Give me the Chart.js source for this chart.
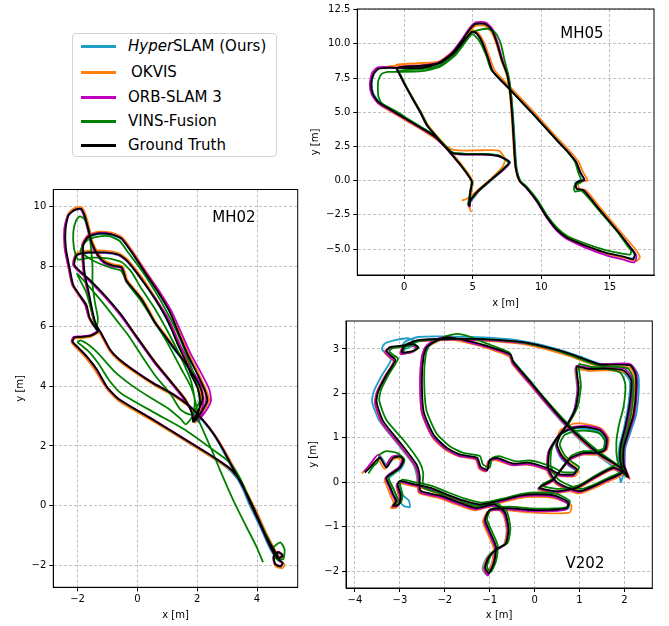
<!DOCTYPE html>
<html>
<head>
<meta charset="utf-8">
<script src="https://cdn.jsdelivr.net/npm/chart.js@4.4.0/dist/chart.umd.min.js"></script>
<style>
body { margin: 0; background: #fff; width: 669px; height: 626px; position: relative; overflow: hidden; font-family: "DejaVu Sans", sans-serif; }
canvas { position: absolute; }
.tag { position: absolute; font-size: 15px; color: #000; transform: translate(-50%, -50%); white-space: nowrap; }
#legend { position: absolute; left: 72px; top: 33px; width: 205px; height: 124px; border: 1px solid #d3d3d3; border-radius: 4px; background: #fff; box-sizing: border-box; }
.swatch { position: absolute; left: 8px; width: 35px; height: 2.5px; }
.lbl { position: absolute; left: 55px; font-size: 15px; line-height: 18px; color: #000; transform: translateY(-50%); white-space: nowrap; }
</style>
</head>
<body>
<div id="legend">
  <div class="swatch" style="top:11px;background:#1f9fc6"></div><div class="lbl" style="top:12px"><i>Hyper</i>SLAM (Ours)</div>
  <div class="swatch" style="top:37px;background:#ff7f0e"></div><div class="lbl" style="top:38px;left:58px">OKVIS</div>
  <div class="swatch" style="top:62px;background:#bf00bf"></div><div class="lbl" style="top:63px">ORB-SLAM 3</div>
  <div class="swatch" style="top:86px;background:#008000"></div><div class="lbl" style="top:87px">VINS-Fusion</div>
  <div class="swatch" style="top:110px;background:#000000"></div><div class="lbl" style="top:111px">Ground Truth</div>
</div>

<canvas id="mh02" width="305" height="446" style="left:0px;top:180px"></canvas>
<canvas id="mh05" width="369" height="312" style="left:300px;top:0px"></canvas>
<canvas id="v202" width="369" height="314" style="left:300px;top:312px"></canvas>

<div class="tag" style="left:234px;top:217px">MH02</div>
<div class="tag" style="left:582px;top:33px">MH05</div>
<div class="tag" style="left:585px;top:563px">V202</div>

<script>
// ---- MH02 trajectories, [x, y] in metres ----
const mh02Truth = [
  [4.72,-1.8],[4.86,-1.9],[4.8,-2.02],[4.62,-1.96],[4.56,-1.7],[4.72,-1.55],[4.86,-1.66],[4.7,-1.76],
  [4.45,-1.38],[4.1,-0.6],[3.78,0.08],[3.45,0.82],[3.12,1.22],[2.55,1.62],[1.65,2.18],[0.55,2.86],[-0.6,3.55],[-1.0,3.95],[-1.35,4.55],[-1.7,5.0],[-2.02,5.32],[-2.16,5.48],[-2.1,5.62],[-1.85,5.64],[-1.55,5.68],[-1.32,5.82],
  [-1.47,6.05],[-1.6,6.3],[-1.7,6.7],[-1.92,7.03],[-2.14,7.37],[-2.26,7.92],[-2.39,8.6],[-2.4,9.26],[-2.3,9.7],[-2.1,9.88],
  [-1.88,9.92],[-1.76,9.68],[-1.64,9.24],[-1.53,8.8],[-1.31,8.36],[-1.09,8.13],[-0.81,8.02],[-0.53,7.97],[-0.44,7.74],[-0.37,7.52],[-0.14,7.24],[0.13,6.91],[0.36,6.52],[0.58,6.13],[0.91,5.69],[1.24,5.24],[1.58,4.8],[1.8,4.47],[2.02,4.13],[2.13,3.88],[2.18,3.55],[2.0,3.1],[1.85,2.82],
  [2.02,3.05],[2.1,3.45],[2.02,3.92],[1.8,4.37],[1.63,4.81],[1.36,5.37],[1.13,5.92],[0.91,6.37],[0.58,6.92],[0.24,7.42],[-0.09,7.87],[-0.37,8.2],[-0.64,8.39],[-1.09,8.46],[-1.64,8.46],[-2.03,8.37],[-2.1,8.03],
  [-1.64,7.59],[-1.09,7.03],[-0.53,6.37],[0.02,5.59],[0.58,4.81],[1.13,4.14],[1.6,3.55],[1.82,3.1],[1.88,2.8],
  [2.15,3.15],[2.34,3.5],[2.26,3.85],[2.02,4.37],[1.69,5.03],[1.36,5.81],[1.08,6.48],[0.69,7.14],[0.24,7.81],[-0.2,8.48],[-0.53,8.92],[-0.87,9.06],[-1.31,9.09],[-1.64,8.98],[-1.81,8.7],[-1.8,8.2],
  [-1.75,7.7],[-1.62,7.1],[-1.5,6.5],[-1.38,6.05],[-1.2,5.75],[-0.9,5.2],[-0.64,4.92],[-0.09,4.5],[0.55,4.08],[1.2,3.72],[1.75,3.32],[2.2,2.85],[2.55,2.4],[2.87,1.87],[3.2,1.25],[3.55,0.6],[3.9,-0.1],[4.25,-0.9],[4.55,-1.45],[4.72,-1.72]
];
const mh02Okvis = [
  [4.75,-1.85],[4.92,-1.95],[4.85,-2.08],[4.62,-2.02],[4.55,-1.72],[4.74,-1.55],[4.9,-1.7],[4.74,-1.8],
  [4.5,-1.4],[4.15,-0.62],[3.83,0.05],[3.5,0.78],[3.15,1.17],[2.58,1.56],[1.68,2.12],[0.57,2.8],[-0.6,3.48],[-1.02,3.9],[-1.4,4.5],[-1.75,4.97],[-2.07,5.3],[-2.2,5.47],[-2.12,5.58],[-1.85,5.6],[-1.55,5.65],[-1.3,5.8],
  [-1.5,6.05],[-1.63,6.3],[-1.74,6.7],[-1.96,7.03],[-2.18,7.37],[-2.3,7.92],[-2.43,8.6],[-2.43,9.26],[-2.32,9.74],[-2.1,9.94],
  [-1.86,9.97],[-1.72,9.7],[-1.6,9.24],[-1.49,8.8],[-1.27,8.38],[-1.06,8.17],[-0.79,8.06],[-0.5,8.0],[-0.4,7.76],[-0.33,7.52],[-0.1,7.24],[0.17,6.91],[0.4,6.52],[0.62,6.13],[0.95,5.69],[1.28,5.24],[1.62,4.8],[1.84,4.47],[2.06,4.13],[2.17,3.88],[2.22,3.55],[2.04,3.1],[1.9,2.82],
  [2.06,3.05],[2.14,3.45],[2.06,3.92],[1.84,4.37],[1.67,4.81],[1.4,5.37],[1.17,5.92],[0.95,6.37],[0.62,6.92],[0.28,7.45],[-0.06,7.9],[-0.35,8.25],[-0.63,8.44],[-1.09,8.52],[-1.64,8.52],[-2.06,8.42],[-2.14,8.05],
  [-1.66,7.58],[-1.1,7.0],[-0.52,6.33],[0.05,5.55],[0.62,4.78],[1.17,4.11],[1.64,3.52],[1.86,3.07],[1.92,2.78],
  [2.19,3.13],[2.4,3.5],[2.3,3.87],[2.06,4.39],[1.73,5.05],[1.4,5.83],[1.12,6.5],[0.73,7.17],[0.28,7.84],[-0.17,8.52],[-0.51,8.97],[-0.87,9.12],[-1.31,9.15],[-1.67,9.03],[-1.85,8.72],[-1.84,8.2],
  [-1.79,7.7],[-1.66,7.1],[-1.54,6.5],[-1.42,6.03],[-1.23,5.72],[-0.92,5.16],[-0.64,4.86],[-0.07,4.44],[0.58,4.02],[1.23,3.66],[1.79,3.26],[2.25,2.8],[2.6,2.36],[2.92,1.84],[3.26,1.22],[3.6,0.57],[3.96,-0.13],[4.32,-0.93],[4.62,-1.5],[4.8,-1.8]
];
const mh02Orb = [
  [4.7,-1.78],[4.85,-1.92],[4.78,-2.0],[4.6,-1.93],[4.55,-1.68],[4.7,-1.53],[4.85,-1.64],[4.68,-1.78],
  [4.43,-1.35],[4.08,-0.57],[3.76,0.11],[3.43,0.85],[3.1,1.25],[2.52,1.65],[1.62,2.21],[0.52,2.89],[-0.63,3.57],[-1.03,3.97],[-1.38,4.57],[-1.73,5.02],[-2.05,5.35],[-2.2,5.5],[-2.13,5.64],[-1.87,5.66],[-1.57,5.7],[-1.34,5.85],
  [-1.5,6.08],[-1.64,6.33],[-1.75,6.72],[-1.96,7.05],[-2.18,7.4],[-2.3,7.95],[-2.43,8.62],[-2.44,9.26],[-2.33,9.68],[-2.12,9.86],
  [-1.9,9.9],[-1.78,9.66],[-1.66,9.22],[-1.55,8.78],[-1.33,8.34],[-1.11,8.1],[-0.83,7.99],[-0.55,7.94],[-0.46,7.72],[-0.38,7.5],[-0.14,7.2],[0.14,6.86],[0.38,6.47],[0.61,6.08],[0.95,5.63],[1.3,5.18],[1.66,4.74],[1.9,4.42],[2.12,4.08],[2.25,3.84],[2.3,3.52],[2.12,3.02],[1.98,2.84],
  [2.1,3.05],[2.2,3.45],[2.14,3.9],[1.9,4.36],[1.72,4.8],[1.44,5.35],[1.2,5.9],[0.97,6.36],[0.62,6.9],[0.26,7.4],[-0.08,7.86],[-0.37,8.19],[-0.65,8.38],[-1.1,8.45],[-1.65,8.45],[-2.06,8.36],[-2.14,8.02],
  [-1.67,7.57],[-1.12,7.01],[-0.56,6.35],[0.0,5.57],[0.56,4.79],[1.11,4.12],[1.6,3.5],[1.88,3.05],[2.0,2.84],
  [2.28,3.15],[2.46,3.5],[2.4,3.9],[2.14,4.42],[1.78,5.08],[1.44,5.84],[1.14,6.5],[0.74,7.15],[0.27,7.82],[-0.18,8.48],[-0.53,8.93],[-0.88,9.08],[-1.32,9.11],[-1.66,9.0],[-1.84,8.72],[-1.83,8.2],
  [-1.78,7.7],[-1.65,7.1],[-1.53,6.5],[-1.41,6.07],[-1.22,5.77],[-0.92,5.22],[-0.66,4.94],[-0.1,4.52],[0.54,4.1],[1.19,3.74],[1.74,3.34],[2.18,2.88],[2.53,2.43],[2.86,1.9],[3.18,1.28],[3.53,0.63],[3.88,-0.07],[4.23,-0.87],[4.53,-1.42],[4.7,-1.7]
];
const mh02Hyper = [
  [4.7,-1.82],[4.84,-1.92],[4.78,-2.04],[4.6,-1.98],[4.54,-1.72],[4.7,-1.57],[4.84,-1.68],[4.68,-1.78],
  [4.42,-1.4],[4.07,-0.63],[3.74,0.05],[3.42,0.79],[3.1,1.18],[2.53,1.6],[1.63,2.16],[0.53,2.84],[-0.62,3.53],[-1.02,3.93],[-1.37,4.53],[-1.72,4.98],[-2.04,5.3],[-2.18,5.46],[-2.12,5.6],[-1.86,5.62],[-1.56,5.66],[-1.33,5.8],
  [-1.48,6.03],[-1.62,6.28],[-1.72,6.68],[-1.94,7.01],[-2.16,7.35],[-2.28,7.9],[-2.41,8.58],[-2.41,9.24],[-2.31,9.69],[-2.1,9.87],
  [-1.89,9.9],[-1.77,9.66],[-1.65,9.22],[-1.54,8.78],[-1.32,8.34],[-1.1,8.11],[-0.82,8.0],[-0.54,7.95],[-0.45,7.72],[-0.38,7.5],[-0.15,7.22],[0.12,6.89],[0.35,6.5],[0.57,6.11],[0.9,5.67],[1.23,5.22],[1.58,4.77],[1.8,4.44],[2.04,4.1],[2.16,3.84],[2.22,3.5],[2.1,3.0],[2.06,2.78],
  [2.12,3.02],[2.14,3.44],[2.04,3.9],[1.81,4.35],[1.64,4.79],[1.37,5.35],[1.14,5.9],[0.92,6.35],[0.59,6.9],[0.25,7.4],[-0.08,7.85],[-0.36,8.18],[-0.64,8.37],[-1.09,8.44],[-1.64,8.44],[-2.04,8.35],[-2.11,8.01],
  [-1.65,7.57],[-1.1,7.01],[-0.54,6.35],[0.01,5.57],[0.57,4.79],[1.12,4.12],[1.62,3.52],[1.9,3.05],[2.04,2.8],
  [2.2,3.12],[2.36,3.48],[2.28,3.83],[2.04,4.35],[1.7,5.01],[1.37,5.79],[1.09,6.46],[0.7,7.12],[0.25,7.79],[-0.19,8.46],[-0.52,8.9],[-0.87,9.04],[-1.31,9.07],[-1.64,8.96],[-1.82,8.68],[-1.81,8.18],
  [-1.76,7.68],[-1.63,7.08],[-1.51,6.48],[-1.39,6.03],[-1.21,5.72],[-0.91,5.18],[-0.64,4.9],[-0.08,4.48],[0.56,4.05],[1.21,3.69],[1.76,3.28],[2.2,2.82],[2.55,2.37],[2.86,1.84],[3.18,1.22],[3.52,0.57],[3.86,-0.14],[4.21,-0.94],[4.52,-1.5],[4.7,-1.75]
];
const mh02Vins = [
  [4.7,-1.8],[4.88,-1.78],[4.92,-1.45],[4.78,-1.22],[4.56,-1.38],[4.58,-1.7],[4.74,-1.82],
  [4.42,-1.2],[4.06,-0.45],[3.74,0.25],[3.4,0.98],[3.05,1.48],[2.6,1.82],[1.65,2.5],[0.55,3.12],[-0.55,3.76],[-0.95,4.2],[-1.3,4.75],[-1.62,5.15],[-1.9,5.38],[-2.0,5.46],[-1.9,5.52],
  [-1.6,5.35],[-1.31,5.09],[-0.76,4.48],[-0.2,4.03],[0.47,3.59],[1.02,3.26],[1.45,2.9],[1.62,2.72],
  [1.85,3.0],[1.92,3.5],[1.8,4.14],[1.47,4.92],[1.02,5.81],[0.58,6.59],[0.13,7.26],[-0.2,7.81],[-0.53,8.14],[-0.98,8.26],[-1.64,8.28],[-1.98,8.22],
  [-2.12,8.6],[-2.14,9.15],[-2.05,9.52],[-1.92,9.66],[-1.76,9.56],[-1.62,9.2],[-1.55,8.6],[-1.5,8.0],[-1.5,7.4],[-1.42,6.8],[-1.32,6.25],[-1.38,5.9],
  [-1.5,6.4],[-1.72,7.15],[-2.02,7.75],
  [-1.6,7.3],[-1.09,6.7],[-0.7,6.2],[-0.31,5.7],[0.13,5.03],[0.58,4.37],[1.13,3.7],[1.45,3.2],[1.8,3.05],
  [2.08,3.5],[1.95,4.2],[1.68,4.95],[1.35,5.75],[1.0,6.45],[0.6,7.15],[0.15,7.85],[-0.3,8.45],[-0.6,8.85],[-0.95,9.0],[-1.35,8.98],[-1.7,8.85],[-1.9,8.5],
  [-1.5,8.2],[-0.9,7.95],[-0.55,7.85],[-0.3,7.4],[0.15,6.8],[0.6,6.1],[1.0,5.45],[1.45,4.6],[1.8,3.95],[1.98,3.3],[2.02,2.9],
  [2.09,2.76],[2.53,1.76],[2.76,1.2],[3.2,0.2],[3.64,-0.69],[3.98,-1.36],[4.2,-1.88]
];

// ---- MH05 ----
const mh05Truth = [
  [4.72,-1.88],[4.75,-1.5],[4.85,-0.7],[4.95,-0.1],[4.8,0.2],[4.22,1.0],[3.6,1.75],[3.0,2.46],[2.27,3.3],[1.66,4.04],[1.17,5.0],[0.68,5.86],[0.07,6.96],[-0.4,7.9],[-0.55,8.2],
  [0.2,8.35],[1.3,8.4],[2.5,8.6],[3.45,9.27],[4.2,10.22],[4.8,11.08],[5.2,11.46],[5.9,11.46],[6.4,11.0],[6.78,10.0],[7.12,8.8],[7.5,7.8],[7.72,6.5],[7.88,4.65],[8.0,2.7],[8.12,1.0],[8.4,0.0],[8.9,-0.5],[9.65,-1.45],[10.4,-2.65],[11.15,-3.6],[11.85,-4.15],[12.6,-4.5],[13.6,-4.9],[14.8,-5.3],[16.0,-5.55],[16.7,-5.75],[16.85,-5.4],[16.55,-4.95],[15.74,-3.9],[14.28,-2.16],[13.07,-0.7],[12.6,-0.6],[12.5,-0.25],[12.8,-0.02],[13.15,0.05],[12.85,0.6],[12.55,1.35],[11.85,2.21],[11.15,2.95],[9.4,4.88],[7.6,6.78],[6.45,8.0],[6.1,9.0],[5.7,10.1],[5.3,10.75],[4.95,10.9],[4.5,10.4],[3.7,9.4],[2.6,8.6],[1.3,8.25],[-0.5,8.25],[-1.15,8.25],[-1.88,8.18],[-2.24,7.81],[-2.41,7.08],[-2.3,6.35],[-1.88,5.74],[-0.9,5.13],[0.32,4.4],[1.54,3.67],[2.27,3.2],[3.0,2.46],[3.5,2.02],[4.46,1.92],[5.68,1.92],[6.9,1.8],[7.68,1.36],[7.3,0.9],[6.41,0.15],[5.44,-0.7],[4.83,-1.44],[4.75,-1.9]
];
const mh05Okvis = [
  [4.9,-2.3],[4.75,-2.0],[4.8,-1.5],[4.9,-0.7],[5.0,-0.1],[4.85,0.25],[4.28,1.05],[3.66,1.8],[3.06,2.5],[2.3,3.36],[1.7,4.1],[1.2,5.05],[0.7,5.92],[0.08,7.0],[-0.4,7.95],[-0.62,8.45],
  [0.2,8.55],[1.3,8.6],[2.5,8.7],[3.45,9.3],[4.22,10.2],[4.85,11.0],[5.25,11.33],[5.85,11.33],[6.3,10.95],[6.72,10.0],[7.08,8.8],[7.45,7.8],[7.68,6.5],[7.84,4.65],[7.96,2.7],[8.1,1.0],[8.4,-0.05],[8.95,-0.55],[9.72,-1.5],[10.48,-2.7],[11.22,-3.62],[11.92,-4.18],[12.7,-4.55],[13.7,-4.95],[14.9,-5.38],[16.1,-5.65],[16.95,-5.88],[17.2,-5.6],[16.9,-5.05],[15.92,-3.9],[14.42,-2.12],[13.25,-0.7],[12.78,-0.58],[12.7,-0.22],[13.0,-0.05],[13.38,0.02],[13.05,0.62],[12.72,1.38],[12.02,2.24],[11.3,2.98],[9.55,4.92],[7.75,6.82],[6.6,8.05],[6.22,9.05],[5.8,10.15],[5.38,10.82],[5.0,10.98],[4.5,10.55],[3.66,9.55],[2.55,8.72],[1.3,8.42],[-0.5,8.4],[-1.15,8.35],[-1.9,8.22],[-2.28,7.82],[-2.45,7.05],[-2.32,6.28],[-1.88,5.62],[-0.9,5.0],[0.32,4.28],[1.54,3.56],[2.3,3.05],[3.0,2.55],[3.6,2.25],[4.5,2.2],[5.68,2.22],[6.9,2.2],[7.35,1.6],[7.2,1.05],[6.3,0.1],[5.3,-0.75],[4.55,-1.35],[4.2,-1.45]
];
const mh05Orb = [
  [4.7,-1.9],[4.73,-1.5],[4.83,-0.7],[4.93,-0.1],[4.78,0.2],[4.2,1.0],[3.58,1.75],[2.98,2.46],[2.25,3.3],[1.64,4.04],[1.15,5.0],[0.66,5.86],[0.05,6.96],[-0.42,7.9],[-0.6,8.25],
  [0.2,8.38],[1.3,8.43],[2.5,8.64],[3.43,9.32],[4.18,10.3],[4.78,11.18],[5.2,11.58],[5.92,11.58],[6.45,11.08],[6.84,10.02],[7.18,8.8],[7.55,7.8],[7.77,6.5],[7.92,4.65],[8.04,2.7],[8.16,1.0],[8.44,-0.02],[8.92,-0.56],[9.66,-1.52],[10.4,-2.72],[11.14,-3.68],[11.84,-4.25],[12.6,-4.62],[13.6,-5.05],[14.8,-5.48],[16.0,-5.78],[16.8,-5.98],[16.95,-5.5],[16.6,-4.98],[15.76,-3.92],[14.3,-2.18],[13.09,-0.72],[12.62,-0.62],[12.52,-0.26],[12.82,-0.04],[13.17,0.03],[12.87,0.58],[12.57,1.33],[11.87,2.19],[11.17,2.93],[9.42,4.86],[7.62,6.76],[6.47,7.98],[6.12,8.98],[5.72,10.08],[5.32,10.73],[4.97,10.88],[4.52,10.38],[3.72,9.38],[2.62,8.58],[1.3,8.23],[-0.5,8.23],[-1.15,8.3],[-1.95,8.28],[-2.36,7.86],[-2.52,7.05],[-2.38,6.3],[-1.92,5.68],[-0.92,5.08],[0.3,4.36],[1.52,3.63],[2.25,3.17],[2.98,2.43],[3.48,2.0],[4.46,1.9],[5.68,1.9],[6.9,1.78],[7.7,1.32],[7.32,0.86],[6.43,0.11],[5.46,-0.74],[4.85,-1.48],[4.77,-1.95]
];
const mh05Hyper = [
  [4.6,-1.7],[4.8,-1.55],[4.9,-0.72],[5.0,-0.12],[4.85,0.17],[4.27,0.97],[3.65,1.72],[3.05,2.43],[2.32,3.27],[1.71,4.01],[1.22,4.97],[0.73,5.83],[0.12,6.93],[-0.35,7.87],[-0.5,8.15],
  [0.2,8.3],[1.3,8.36],[2.52,8.55],[3.5,9.2],[4.25,10.12],[4.84,10.95],[5.22,11.36],[5.88,11.4],[6.38,10.95],[6.78,9.95],[7.14,8.75],[7.54,7.75],[7.78,6.45],[7.96,4.6],[8.08,2.65],[8.2,0.95],[8.48,-0.04],[8.98,-0.55],[9.72,-1.5],[10.46,-2.7],[11.2,-3.64],[11.9,-4.2],[12.65,-4.55],[13.65,-4.95],[14.85,-5.35],[16.02,-5.6],[16.68,-5.68],[16.8,-5.35],[16.5,-4.92],[15.7,-3.87],[14.24,-2.13],[13.03,-0.67],[12.56,-0.57],[12.46,-0.22],[12.76,0.01],[13.11,0.08],[12.81,0.63],[12.51,1.38],[11.81,2.24],[11.11,2.98],[9.36,4.91],[7.56,6.81],[6.41,8.03],[6.06,9.03],[5.66,10.13],[5.26,10.78],[4.93,10.92],[4.48,10.42],[3.68,9.42],[2.58,8.62],[1.3,8.27],[-0.5,8.27],[-1.15,8.27],[-1.86,8.2],[-2.2,7.82],[-2.37,7.1],[-2.26,6.38],[-1.84,5.77],[-0.86,5.16],[0.36,4.43],[1.58,3.7],[2.31,3.23],[3.04,2.49],[3.54,2.05],[4.5,1.95],[5.7,1.95],[6.92,1.83],[7.72,1.36],[7.34,0.88],[6.45,0.12],[5.48,-0.73],[4.87,-1.5],[4.6,-1.75]
];
const mh05Vins = [
  [4.65,-1.8],[4.7,-1.45],[4.82,-0.7],[4.92,-0.15],[4.8,0.18],[4.25,0.98],[3.65,1.72],[3.05,2.44],[2.32,3.28],[1.72,4.02],[1.22,4.98],[0.72,5.84],[0.12,6.92],[-0.3,7.75],[-0.42,8.0],
  [0.3,8.1],[1.3,8.15],[2.5,8.4],[3.45,9.05],[4.2,9.95],[4.85,10.78],[5.4,11.0],[6.1,11.1],[6.62,10.85],[7.05,10.0],[7.32,8.8],[7.58,7.8],[7.78,6.5],[7.92,4.65],[8.04,2.7],[8.16,1.0],[8.45,0.02],[8.95,-0.45],[9.7,-1.38],[10.45,-2.58],[11.2,-3.5],[11.9,-4.05],[12.65,-4.38],[13.65,-4.75],[14.85,-5.12],[16.0,-5.35],[16.5,-5.4],[16.55,-5.1],[16.3,-4.8],[15.6,-3.8],[14.15,-2.1],[12.95,-0.75],[12.45,-0.8],[12.4,-0.4],[12.7,-0.22],[12.95,-0.1],[12.7,0.6],[12.45,1.4],[11.75,2.3],[11.05,3.05],[9.3,4.98],[7.5,6.9],[6.35,8.1],[6.0,9.1],[5.55,10.1],[5.15,10.6],[4.95,10.72],[4.55,10.25],[3.75,9.2],[2.65,8.35],[1.3,8.0],[-0.5,7.95],[-1.2,7.95],[-1.65,7.8],[-1.9,7.3],[-1.93,6.7],[-1.88,6.11],[-1.6,5.62],[-0.66,5.1],[0.45,4.4],[1.6,3.7],[2.32,3.22],[3.05,2.5],[3.52,2.06],[4.48,1.96],[5.7,1.96],[6.92,1.84],[7.6,1.3],[7.2,0.85],[6.35,0.05],[5.4,-0.78],[4.8,-1.5],[4.65,-1.7]
];

// ---- V202 ----
const v202Truth = [
  [-3.78,0.22],[-3.67,0.33],[-3.52,0.5],[-3.44,0.55],[-3.36,0.42],[-3.3,0.33],[-3.22,0.45],[-3.15,0.55],[-3.0,0.58],[-2.92,0.5],[-3.0,0.33],[-3.15,0.22],[-3.3,0.1],[-3.22,-0.1],[-3.15,-0.27],[-3.08,-0.42],[-3.15,-0.53],[-3.02,-0.5],[-2.98,-0.3],[-3.05,-0.05],[-3.0,0.03],
  [-2.7,-0.04],[-2.33,-0.12],[-1.96,-0.27],[-1.59,-0.41],[-1.22,-0.5],[-0.76,-0.41],[-0.32,-0.3],[0.05,-0.27],[0.45,-0.3],[0.75,-0.45],[0.72,-0.58],[0.4,-0.62],[-0.1,-0.62],[-0.6,-0.58],[-1.0,-0.62],
  [-1.1,-0.85],[-0.98,-1.15],[-0.86,-1.45],[-0.9,-1.8],[-1.02,-2.05],[-1.1,-1.92],[-1.02,-1.68],[-0.84,-1.5],[-0.64,-1.38],[-0.58,-1.05],[-0.66,-0.68],[-0.9,-0.5],[-1.3,-0.58],[-1.7,-0.45],[-2.1,-0.3],[-2.54,-0.19],
  [-2.56,0.15],[-2.63,0.4],[-2.96,0.85],[-3.37,1.37],[-3.52,1.81],[-3.48,2.05],[-3.3,2.41],[-3.1,2.75],[-3.2,2.85],[-3.3,2.96],[-3.22,3.04],[-3.0,3.07],[-2.7,3.11],[-2.59,3.04],[-2.7,2.96],[-2.95,2.92],[-2.9,3.08],[-2.6,3.2],
  [-1.88,3.23],[-1.13,3.22],[-0.4,3.17],[-0.02,3.11],[0.42,3.0],[0.79,2.89],[1.09,2.78],[1.46,2.65],[1.83,2.65],[2.13,2.63],[2.24,2.45],[2.26,2.1],[2.2,1.52],[2.09,1.14],[1.98,0.77],[1.98,0.4],[2.08,0.12],
  [1.91,0.33],[1.46,0.62],[1.02,1.0],[0.65,1.37],[0.27,1.81],[-0.1,2.26],[-0.47,2.7],[-0.54,2.88],[-1.06,3.07],[-1.51,3.19],[-1.95,3.26],[-2.17,3.19],[-2.4,3.04],[-2.47,2.85],[-2.51,2.33],[-2.47,1.59],[-2.25,1.07],[-1.95,0.77],[-1.65,0.62],[-1.28,0.55],
  [-1.2,0.35],[-1.05,0.28],[-1.0,0.5],[-0.84,0.55],[-0.47,0.42],[-0.17,0.44],[0.05,0.4],[0.35,0.29],[0.57,0.18],[0.87,0.18],[0.94,0.29],[0.79,0.4],[0.6,0.6],[0.5,0.85],[0.6,1.1],[0.85,1.22],[1.15,1.24],[1.45,1.17],[1.6,0.98],[1.57,0.74],[1.39,0.66],[1.09,0.66],[0.8,0.55],[0.6,0.3],[0.4,0.05],[0.1,-0.12],
  [0.5,-0.2],[0.94,-0.12],[1.31,0.1],[1.76,0.33],[1.95,0.22],[1.6,0.05],[1.0,-0.2],[0.5,0.0],[0.31,0.3],[0.33,0.7],[0.5,1.0],[0.72,1.29],[0.91,1.66],[0.98,2.11],[0.94,2.48],[0.94,2.6],[1.2,2.55],[1.6,2.56],[1.98,2.52],[2.15,2.3],[2.12,1.8],[2.02,1.25],[1.92,0.85],[1.9,0.5],[1.98,0.2]
];
const v202Okvis = [
  [-3.85,0.2],[-3.72,0.32],[-3.56,0.47],[-3.48,0.52],[-3.4,0.38],[-3.34,0.3],[-3.26,0.42],[-3.18,0.5],[-3.04,0.54],[-2.96,0.46],[-3.04,0.29],[-3.2,0.18],[-3.34,0.06],[-3.27,-0.14],[-3.2,-0.32],[-3.14,-0.47],[-3.2,-0.58],[-3.06,-0.56],[-3.02,-0.35],[-3.08,-0.1],[-3.04,-0.02],
  [-2.74,-0.08],[-2.37,-0.17],[-2.0,-0.32],[-1.63,-0.46],[-1.26,-0.55],[-0.8,-0.47],[-0.36,-0.36],[0.02,-0.33],[0.45,-0.36],[0.82,-0.52],[0.78,-0.68],[0.4,-0.7],[-0.12,-0.68],[-0.62,-0.63],[-1.04,-0.66],
  [-1.15,-0.89],[-1.03,-1.19],[-0.91,-1.49],[-0.95,-1.84],[-1.06,-2.08],[-1.14,-1.95],[-1.06,-1.71],[-0.88,-1.53],[-0.68,-1.41],[-0.62,-1.08],[-0.7,-0.72],[-0.94,-0.54],[-1.34,-0.63],[-1.74,-0.5],[-2.14,-0.35],[-2.58,-0.24],
  [-2.6,0.12],[-2.67,0.37],[-3.0,0.82],[-3.41,1.34],[-3.56,1.78],[-3.52,2.02],[-3.34,2.38],[-3.14,2.72],[-3.24,2.82],[-3.34,2.93],[-3.26,3.01],[-3.04,3.04],[-2.74,3.08],[-2.63,3.01],[-2.74,2.93],[-2.99,2.89],[-2.94,3.05],[-2.64,3.17],
  [-1.92,3.2],[-1.17,3.19],[-0.44,3.13],[-0.06,3.07],[0.38,2.96],[0.75,2.85],[1.05,2.74],[1.42,2.61],[1.79,2.61],[2.13,2.58],[2.22,2.4],[2.24,2.05],[2.18,1.47],[2.07,1.09],[1.98,0.72],[2.0,0.35],[2.12,0.08],
  [1.94,0.28],[1.48,0.57],[1.03,0.95],[0.66,1.32],[0.27,1.76],[-0.11,2.21],[-0.49,2.65],[-0.57,2.83],[-1.09,3.03],[-1.54,3.15],[-1.98,3.22],[-2.21,3.15],[-2.44,3.0],[-2.51,2.81],[-2.55,2.29],[-2.51,1.55],[-2.29,1.03],[-1.99,0.73],[-1.68,0.58],[-1.31,0.51],
  [-1.24,0.31],[-1.1,0.24],[-1.04,0.46],[-0.88,0.5],[-0.5,0.38],[-0.2,0.4],[0.03,0.36],[0.33,0.25],[0.56,0.14],[0.9,0.14],[0.98,0.27],[0.82,0.4],[0.6,0.62],[0.48,0.9],[0.58,1.18],[0.87,1.32],[1.2,1.3],[1.5,1.2],[1.65,0.98],[1.6,0.72],[1.4,0.62],[1.08,0.62],[0.78,0.5],[0.58,0.26],[0.38,0.01],[0.08,-0.16],
  [0.48,-0.24],[0.93,-0.16],[1.3,0.06],[1.75,0.29],[1.96,0.18],[1.6,0.0],[0.99,-0.25],[0.48,-0.04],[0.28,0.26],[0.3,0.66],[0.47,0.96],[0.7,1.25],[0.89,1.62],[0.96,2.07],[0.92,2.44],[0.92,2.56],[1.18,2.51],[1.58,2.52],[2.0,2.48],[2.2,2.26],[2.17,1.76],[2.08,1.21],[1.98,0.82],[1.96,0.47],[2.05,0.15]
];
const v202Orb = [
  [-3.8,0.24],[-3.7,0.36],[-3.55,0.56],[-3.47,0.62],[-3.38,0.46],[-3.32,0.36],[-3.24,0.5],[-3.17,0.58],[-3.02,0.6],[-2.94,0.52],[-3.02,0.34],[-3.17,0.23],[-3.32,0.1],[-3.24,-0.1],[-3.17,-0.28],[-3.1,-0.44],[-3.17,-0.55],[-3.04,-0.52],[-3.0,-0.32],[-3.07,-0.06],[-3.02,0.01],
  [-2.72,-0.06],[-2.35,-0.15],[-1.98,-0.3],[-1.61,-0.44],[-1.24,-0.53],[-0.78,-0.44],[-0.34,-0.33],[0.03,-0.3],[0.43,-0.33],[0.73,-0.48],[0.7,-0.61],[0.38,-0.65],[-0.12,-0.65],[-0.62,-0.61],[-1.02,-0.65],
  [-1.12,-0.88],[-1.0,-1.18],[-0.88,-1.48],[-0.92,-1.83],[-1.04,-2.1],[-1.12,-1.95],[-1.04,-1.71],[-0.86,-1.53],[-0.66,-1.41],[-0.6,-1.08],[-0.68,-0.71],[-0.92,-0.53],[-1.32,-0.61],[-1.72,-0.48],[-2.12,-0.33],[-2.56,-0.22],
  [-2.59,0.12],[-2.66,0.37],[-2.99,0.82],[-3.4,1.34],[-3.55,1.78],[-3.51,2.02],[-3.33,2.38],[-3.13,2.72],[-3.23,2.83],[-3.33,2.93],[-3.25,3.01],[-3.03,3.04],[-2.73,3.08],[-2.62,3.01],[-2.73,2.93],[-2.98,2.89],[-2.93,3.05],[-2.63,3.17],
  [-1.91,3.21],[-1.16,3.2],[-0.42,3.15],[-0.04,3.1],[0.4,2.99],[0.77,2.88],[1.07,2.77],[1.44,2.66],[1.81,2.67],[2.13,2.66],[2.26,2.48],[2.28,2.1],[2.22,1.5],[2.1,1.12],[1.99,0.75],[2.0,0.38],[2.1,0.1],
  [1.93,0.31],[1.47,0.6],[1.02,0.98],[0.64,1.35],[0.25,1.79],[-0.12,2.24],[-0.49,2.68],[-0.56,2.86],[-1.08,3.05],[-1.53,3.17],[-1.97,3.28],[-2.2,3.21],[-2.43,3.05],[-2.51,2.84],[-2.55,2.32],[-2.51,1.57],[-2.28,1.04],[-1.97,0.74],[-1.67,0.59],[-1.3,0.52],
  [-1.22,0.32],[-1.07,0.25],[-1.02,0.47],[-0.86,0.52],[-0.49,0.39],[-0.19,0.41],[0.03,0.37],[0.33,0.26],[0.55,0.15],[0.86,0.15],[0.93,0.27],[0.78,0.38],[0.58,0.58],[0.48,0.84],[0.58,1.1],[0.84,1.24],[1.15,1.27],[1.46,1.2],[1.62,1.0],[1.59,0.74],[1.4,0.65],[1.09,0.64],[0.79,0.52],[0.59,0.28],[0.39,0.03],[0.09,-0.14],
  [0.49,-0.22],[0.93,-0.14],[1.3,0.08],[1.75,0.31],[1.94,0.2],[1.59,0.03],[0.99,-0.22],[0.49,-0.02],[0.29,0.28],[0.31,0.68],[0.48,0.98],[0.7,1.27],[0.89,1.64],[0.96,2.09],[0.93,2.47],[0.93,2.62],[1.2,2.58],[1.6,2.59],[2.0,2.56],[2.18,2.32],[2.15,1.8],[2.05,1.24],[1.95,0.84],[1.92,0.48],[2.0,0.15]
];
const v202Hyper = [
  [-3.75,0.25],[-3.64,0.36],[-3.5,0.52],[-3.42,0.57],[-3.34,0.44],[-3.28,0.35],[-3.2,0.47],[-3.12,0.55],[-2.98,0.56],[-2.9,0.46],[-2.98,0.3],[-3.12,0.2],[-3.25,0.08],[-3.15,-0.12],[-3.07,-0.34],[-2.92,-0.53],[-2.78,-0.56],[-2.8,-0.41],[-2.96,-0.27],[-3.0,-0.05],[-2.95,0.0],
  [-2.68,-0.06],[-2.31,-0.14],[-1.94,-0.29],[-1.57,-0.43],[-1.2,-0.52],[-0.74,-0.43],[-0.3,-0.32],[0.07,-0.29],[0.47,-0.32],[0.78,-0.47],[0.74,-0.6],[0.42,-0.64],[-0.08,-0.64],[-0.58,-0.6],[-1.0,-0.64],
  [-1.12,-0.87],[-1.02,-1.17],[-0.9,-1.47],[-0.95,-1.82],[-1.08,-2.07],[-1.16,-1.94],[-1.07,-1.7],[-0.88,-1.52],[-0.68,-1.4],[-0.62,-1.07],[-0.7,-0.7],[-0.92,-0.52],[-1.32,-0.6],[-1.72,-0.47],[-2.12,-0.32],[-2.58,-0.21],
  [-2.62,0.13],[-2.7,0.4],[-3.04,0.85],[-3.45,1.37],[-3.62,1.81],[-3.58,2.05],[-3.4,2.41],[-3.2,2.75],[-3.3,2.88],[-3.4,3.0],[-3.34,3.12],[-3.1,3.2],[-2.8,3.24],[-2.65,3.15],[-2.75,3.05],[-2.95,3.0],[-2.9,3.15],[-2.6,3.27],
  [-1.88,3.28],[-1.13,3.26],[-0.4,3.2],[-0.02,3.13],[0.42,3.02],[0.79,2.91],[1.09,2.8],[1.46,2.67],[1.83,2.66],[2.17,2.62],[2.3,2.43],[2.32,2.1],[2.26,1.52],[2.14,1.14],[2.02,0.77],[2.0,0.3],[1.92,0.0],
  [1.86,0.25],[1.44,0.58],[1.0,0.96],[0.63,1.33],[0.25,1.77],[-0.12,2.22],[-0.49,2.66],[-0.56,2.85],[-1.08,3.04],[-1.53,3.16],[-1.97,3.23],[-2.19,3.16],[-2.42,3.01],[-2.5,2.82],[-2.54,2.3],[-2.5,1.56],[-2.28,1.04],[-1.98,0.74],[-1.68,0.59],[-1.31,0.52],
  [-1.23,0.32],[-1.08,0.25],[-1.03,0.47],[-0.87,0.52],[-0.5,0.39],[-0.2,0.41],[0.02,0.37],[0.32,0.26],[0.54,0.15],[0.84,0.15],[0.91,0.26],[0.76,0.37],[0.57,0.57],[0.47,0.82],[0.57,1.07],[0.82,1.19],[1.12,1.21],[1.42,1.14],[1.57,0.95],[1.54,0.71],[1.36,0.63],[1.06,0.63],[0.77,0.52],[0.57,0.27],[0.37,0.02],[0.07,-0.15],
  [0.47,-0.23],[0.91,-0.15],[1.28,0.07],[1.73,0.3],[1.92,0.19],[1.57,0.02],[0.97,-0.23],[0.47,-0.03],[0.28,0.27],[0.3,0.67],[0.47,0.97],[0.69,1.26],[0.88,1.63],[0.95,2.08],[0.91,2.45],[0.91,2.57],[1.17,2.52],[1.57,2.53],[1.95,2.49],[2.12,2.27],[2.09,1.77],[1.99,1.22],[1.89,0.82],[1.87,0.47],[1.95,0.17]
];
const v202Vins = [
  [-3.7,0.2],[-3.6,0.35],[-3.5,0.45],[-3.44,0.63],[-3.3,0.7],[-3.07,0.66],[-2.9,0.52],[-2.98,0.35],[-3.12,0.22],[-3.26,0.12],[-3.18,-0.08],[-3.1,-0.25],[-3.04,-0.4],[-3.1,-0.5],[-2.98,-0.46],[-2.94,-0.28],[-3.0,-0.04],[-2.95,0.06],
  [-2.66,0.0],[-2.29,-0.08],[-1.92,-0.23],[-1.55,-0.37],[-1.18,-0.46],[-0.72,-0.37],[-0.28,-0.26],[0.09,-0.23],[0.49,-0.26],[0.78,-0.42],[0.74,-0.55],[0.42,-0.59],[-0.08,-0.59],[-0.58,-0.55],[-0.96,-0.6],
  [-1.06,-0.83],[-0.94,-1.13],[-0.82,-1.43],[-0.86,-1.78],[-0.98,-2.02],[-1.06,-1.9],[-0.98,-1.66],[-0.8,-1.48],[-0.6,-1.36],[-0.54,-1.03],[-0.62,-0.66],[-0.86,-0.47],[-1.26,-0.54],[-1.66,-0.41],[-2.06,-0.26],[-2.48,-0.12],
  [-2.48,0.2],[-2.56,0.45],[-2.88,0.9],[-3.3,1.4],[-3.46,1.84],[-3.42,2.08],[-3.24,2.44],[-3.04,2.78],[-3.14,2.86],[-3.24,2.95],[-3.16,3.02],[-2.96,3.05],[-2.68,3.09],[-2.58,3.03],[-2.68,2.96],[-2.92,2.92],[-2.86,3.06],[-2.56,3.18],
  [-1.86,3.22],[-1.12,3.22],[-0.38,3.16],[0.0,3.09],[0.44,2.98],[0.8,2.86],[1.1,2.74],[1.46,2.62],[1.82,2.6],[2.08,2.56],[2.18,2.38],[2.2,2.02],[2.14,1.48],[2.04,1.1],[1.94,0.74],[1.96,0.38],[2.04,0.12],
  [1.88,0.36],[1.44,0.68],[1.0,1.06],[0.63,1.43],[0.24,1.87],[-0.13,2.32],[-0.5,2.76],[-0.56,2.92],[-1.06,3.12],[-1.45,3.28],[-1.72,3.34],[-2.0,3.28],[-2.33,3.1],[-2.42,2.9],[-2.46,2.37],[-2.41,1.63],[-2.19,1.11],[-1.89,0.81],[-1.59,0.66],[-1.22,0.59],
  [-1.15,0.4],[-1.0,0.33],[-0.95,0.54],[-0.79,0.59],[-0.42,0.47],[-0.12,0.49],[0.1,0.45],[0.4,0.34],[0.62,0.23],[0.92,0.23],[0.99,0.34],[0.84,0.45],[0.66,0.62],[0.56,0.85],[0.66,1.06],[0.9,1.15],[1.18,1.16],[1.44,1.1],[1.56,0.94],[1.53,0.76],[1.36,0.7],[1.08,0.7],[0.82,0.6],[0.63,0.35],[0.44,0.1],[0.14,-0.07],
  [0.54,-0.15],[0.98,-0.07],[1.35,0.15],[1.8,0.38],[1.98,0.27],[1.64,0.1],[1.04,-0.15],[0.54,0.05],[0.36,0.35],[0.38,0.75],[0.55,1.05],[0.77,1.34],[0.96,1.71],[1.03,2.16],[0.99,2.53],[0.99,2.66],[1.25,2.6],[1.62,2.55],[1.92,2.46],[2.02,2.2],[1.98,1.7],[1.88,1.3],[1.82,0.9],[1.84,0.5],[1.94,0.22]
];

const colorHyper = '#1f9fc6';
const colorOkvis = '#ff7f0e';
const colorOrb = '#bf00bf';
const colorVins = '#008000';
const colorTruth = '#000000';

Chart.defaults.font.family = '"DejaVu Sans", sans-serif';
Chart.defaults.color = '#000';

// matplotlib-style closed box around the plot area
const boxPlugin = {
    id: 'axesBox',
    afterDraw(chart) {
        const ctx = chart.ctx;
        const a = chart.chartArea;
        ctx.save();
        ctx.strokeStyle = '#000';
        ctx.lineWidth = 1;
        ctx.strokeRect(a.left, a.top, a.right - a.left, a.bottom - a.top);
        ctx.restore();
    }
};

function minus(s) {
    return String(s).replace('-', '\u2212');
}

function track(points, color, order) {
    return {
        data: points.map(p => ({x: p[0], y: p[1]})),
        showLine: true,
        borderColor: color,
        backgroundColor: color,
        borderWidth: 1.8,
        pointRadius: 0,
        tension: 0.2,
        fill: false,
        order: order
    };
}

function axis(min, max, step, title, fmt, size, titlePad, horizontal) {
    return {
        type: 'linear',
        min: min,
        max: max,
        ticks: {
            stepSize: step,
            includeBounds: false,
            font: {size: 10},
            color: '#000',
            padding: horizontal ? 2 : 3,
            callback: fmt
        },
        grid: {
            color: '#b0b0b0',
            lineWidth: 0.8,
            tickColor: '#000',
            tickLength: 4,
            tickWidth: 1
        },
        border: {display: true, color: '#000', width: 1, dash: [3, 2]},
        title: {
            display: true,
            text: title,
            font: {size: 10},
            color: '#000',
            padding: horizontal ? {top: 0, bottom: titlePad} : {top: titlePad, bottom: 0}
        },
        afterFit: function(scale) {
            if (horizontal) scale.height = size; else scale.width = size;
        }
    };
}

function panel(id, sets, pad, xs, ys) {
    return new Chart(document.getElementById(id).getContext('2d'), {
        type: 'scatter',
        data: {
            datasets: [
                track(sets[0], colorHyper, 4),
                track(sets[1], colorOkvis, 3),
                track(sets[2], colorOrb, 2),
                track(sets[3], colorVins, 1),
                track(sets[4], colorTruth, 0)
            ]
        },
        options: {
            responsive: false,
            animation: false,
            devicePixelRatio: 1,
            layout: {padding: pad},
            events: [],
            plugins: {
                legend: {display: false},
                tooltip: {enabled: false},
                title: {display: false}
            },
            scales: {x: xs, y: ys}
        },
        plugins: [boxPlugin]
    });
}

const intLabel = v => minus(v);
const oneDecimal = v => minus(v.toFixed(1));

panel('mh02', [mh02Hyper, mh02Okvis, mh02Orb, mh02Vins, mh02Truth],
    {top: 9.5, right: 7.3, left: 0, bottom: 0},
    axis(-2.81, 5.36, 2, 'x [m]', intLabel, 38.7, 5, true),
    axis(-2.72, 10.56, 2, 'y [m]', intLabel, 53.3, 14, false));

panel('mh05', [mh05Hyper, mh05Okvis, mh05Orb, mh05Vins, mh05Truth],
    {top: 8.3, right: 15, left: 0, bottom: 0},
    axis(-3.43, 18.23, 5, 'x [m]', intLabel, 37, 2.7, true),
    axis(-6.9, 12.55, 2.5, 'y [m]', oneDecimal, 57.3, 9, false));

panel('v202', [v202Hyper, v202Okvis, v202Orb, v202Vins, v202Truth],
    {top: 6.3, right: 16.7, left: 0, bottom: 0},
    axis(-4.2, 2.62, 1, 'x [m]', intLabel, 38, 5, true),
    axis(-2.38, 3.63, 1, 'y [m]', intLabel, 46, 7.3, false));
</script>
</body>
</html>
